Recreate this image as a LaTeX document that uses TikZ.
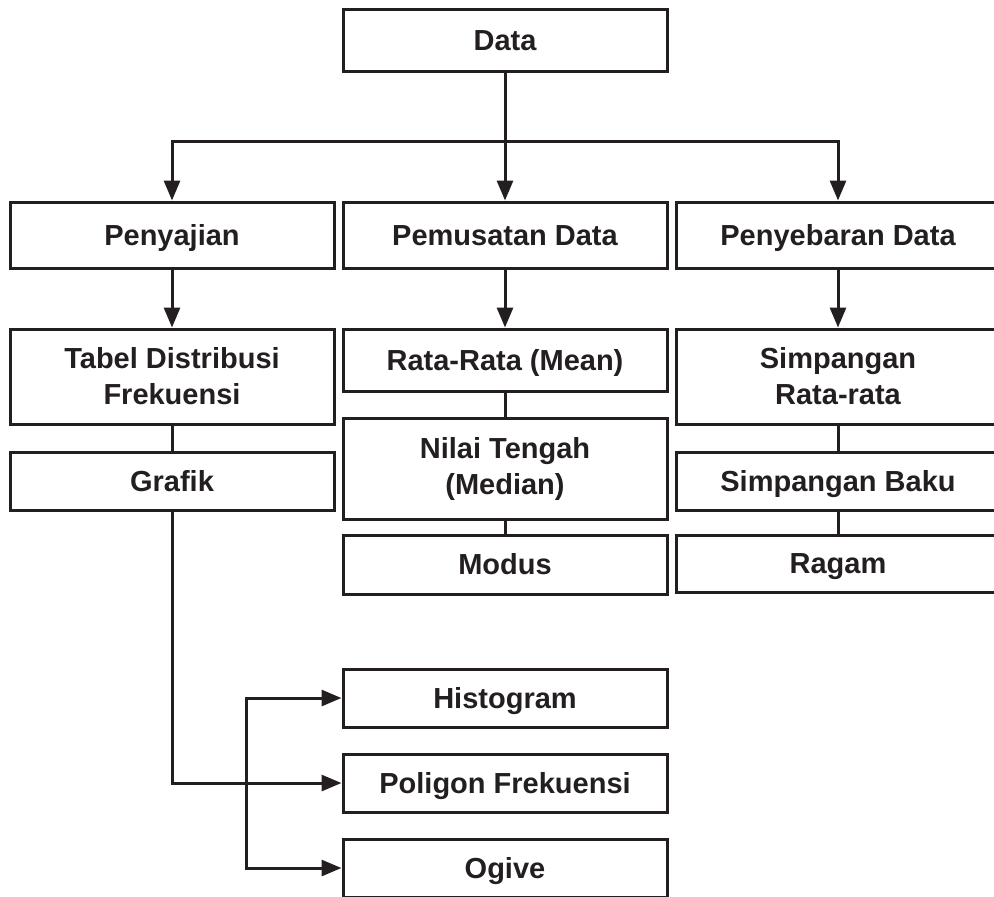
\documentclass[tikz,border=0pt]{standalone}
\usepackage{fontspec}
\setmainfont{Liberation Sans}
\usetikzlibrary{arrows.meta}
\definecolor{ink}{RGB}{35,31,32}

\begin{document}
\begin{tikzpicture}[x=0.5pt,y=-0.5pt,
    font=\fontsize{14.5}{18}\selectfont\bfseries,
    box/.style={draw=ink,text=ink,line width=1.5pt,minimum width=162pt,align=center,inner sep=0pt},
    onebox/.style={box,text height=10.4pt,text depth=0pt},
    link/.style={draw=ink,line width=1.5pt},
    arr/.style={link,-{Triangle[length=10pt,width=8pt]}}]
  \useasboundingbox (0,0) rectangle (994,896);
  \clip (0,0) rectangle (994,896);
  % top
  \node[onebox,minimum height=31pt] (data) at (505,40) {Data};
  \coordinate (bus) at (505,141);
  % three columns
  \node[onebox,minimum height=33pt] (saji) at (172,235) {Penyajian};
  \node[onebox,minimum height=33pt] (pusat) at (505,235) {Pemusatan Data};
  \node[onebox,minimum height=33pt] (sebar) at (838,235) {Penyebaran Data};
  \node[box,minimum height=47.5pt] (tabel) at (172,376.5) {Tabel Distribusi\\Frekuensi};
  \node[onebox,minimum height=29pt] (grafik) at (172,481) {Grafik};
  \node[onebox,minimum height=31pt] (mean) at (505,360) {Rata-Rata (Mean)};
  \node[box,minimum height=50.5pt] (median) at (505,468.5) {Nilai Tengah\\(Median)};
  \node[onebox,minimum height=29.5pt] (modus) at (505,564.5) {Modus};
  \node[box,minimum height=47.5pt] (srata) at (838,376.5) {Simpangan\\Rata-rata};
  \node[onebox,minimum height=29pt] (baku) at (838,481) {Simpangan Baku};
  \node[onebox,minimum height=28.5pt] (ragam) at (838,563.5) {Ragam};
  % graphs
  \node[onebox,minimum height=29pt] (histo) at (505,698) {Histogram};
  \node[onebox,minimum height=29pt] (poli) at (505,783) {Poligon Frekuensi};
  \node[onebox,minimum height=29pt] (ogive) at (505,868) {Ogive};
  \coordinate (split) at (246,783);

  \draw[arr] (data.south) -- (pusat.north);
  \draw[arr] (bus) -| (saji.north);
  \draw[arr] (bus) -| (sebar.north);
  \draw[arr] (saji.south) -- (tabel.north);
  \draw[arr] (pusat.south) -- (mean.north);
  \draw[arr] (sebar.south) -- (srata.north);
  \draw[link] (tabel.south) -- (grafik.north);
  \draw[link] (mean.south) -- (median.north);
  \draw[link] (median.south) -- (modus.north);
  \draw[link] (srata.south) -- (baku.north);
  \draw[link] (baku.south) -- (ragam.north);
  \draw[arr] (grafik.south) |- (poli.west);
  \draw[arr] (split) |- (histo.west);
  \draw[arr] (split) |- (ogive.west);
\end{tikzpicture}
\end{document}
